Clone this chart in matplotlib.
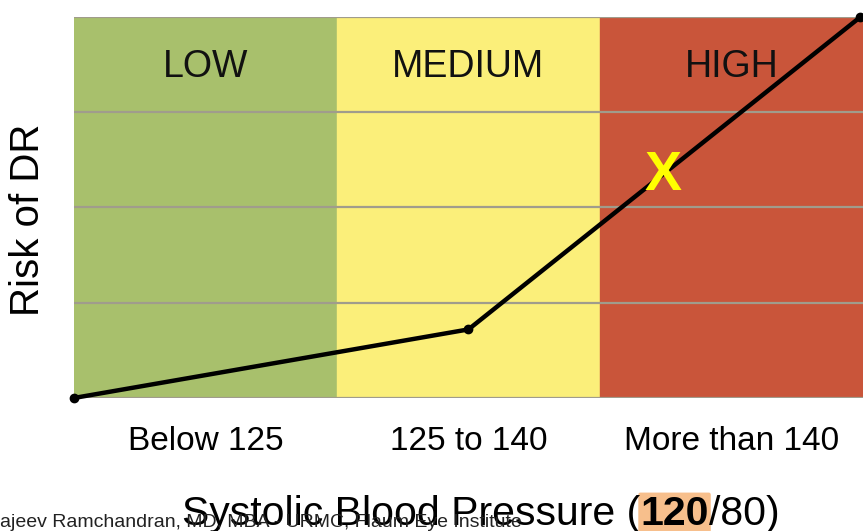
import matplotlib.pyplot as plt

plt.rcParams['font.family'] = ['Liberation Sans', 'DejaVu Sans']

bands = ["LOW", "MEDIUM", "HIGH"]
band_colors = ["#a8c06c", "#fbef7a", "#c9553a"]
tick_labels = ["Below 125", "125 to 140", "More than 140"]
risk_x = [0, 1.5, 2.99]
risk_y = [0, 0.72, 4.0]

fig = plt.figure(figsize=(8.63, 5.31), dpi=100)
ax = fig.add_axes([0.0857, 0.2505, 0.9143, 0.7175])

for i, (name, c) in enumerate(zip(bands, band_colors)):
    ax.axvspan(i, i + 1, color=c, zorder=0)
    ax.text(i + 0.5, 3.47, name, ha='center', va='center', fontsize=27, color='#111111')

for y in [0, 1, 2, 3, 4]:
    ax.axhline(y, color='#a09c8c', lw=1.6, zorder=1)

ax.plot(risk_x, risk_y, color='black', lw=3.2, marker='o', ms=6, zorder=3, clip_on=False)
ax.text(2.24, 2.33, "X", color='#ffff00', fontsize=40, fontweight='bold',
        ha='center', va='center', zorder=4)

ax.set_xlim(0, 3)
ax.set_ylim(0, 4)
ax.set_xticks([0.5, 1.5, 2.5])
ax.set_xticklabels(tick_labels, fontsize=24)
ax.tick_params(axis='x', length=0, pad=20)
ax.set_yticks([])
for s in ax.spines.values():
    s.set_visible(False)

fig.text(0.033, 0.586, "Risk of DR", rotation=90, ha='center', va='center', fontsize=29)

t1 = fig.text(0.211, 0.012, "Systolic Blood Pressure (", fontsize=29.5, va='baseline')
t2 = ax.annotate("120", xy=(1, 0), xycoords=t1, va='bottom', fontsize=29.5, fontweight='bold',
                 annotation_clip=False,
                 bbox=dict(boxstyle='round,pad=0.05', fc='#f7bf8c', ec='none'))
ax.annotate("/80)", xy=(1, 0), xycoords=t2, va='bottom', fontsize=29.5, annotation_clip=False)

fig.text(0.0, 0.008, "ajeev Ramchandran, MD, MBA - URMC, Flaum Eye Institute", fontsize=14,
         color='#222222', va='baseline')

fig.savefig("out.png", dpi=100)
